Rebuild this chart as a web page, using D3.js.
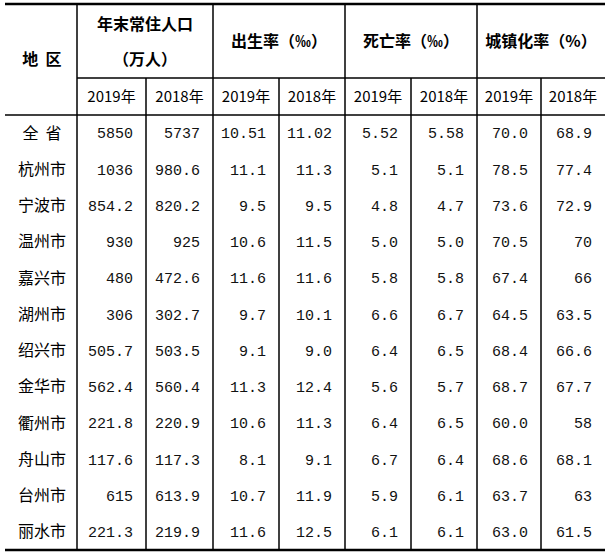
<!DOCTYPE html>
<html><head><meta charset="utf-8">
<script src="https://cdn.jsdelivr.net/npm/d3@7"></script>
<style>body{margin:0;background:#fff}</style>
</head><body><div id="chart"></div>
<script>
// table data
const regions = ["全 省","杭州市","宁波市","温州市","嘉兴市","湖州市","绍兴市","金华市","衢州市","舟山市","台州市","丽水市"];
const pop2019 = ["5850","1036","854.2","930","480","306","505.7","562.4","221.8","117.6","615","221.3"];
const pop2018 = ["5737","980.6","820.2","925","472.6","302.7","503.5","560.4","220.9","117.3","613.9","219.9"];
const birth2019 = ["10.51","11.1","9.5","10.6","11.6","9.7","9.1","11.3","10.6","8.1","10.7","11.6"];
const birth2018 = ["11.02","11.3","9.5","11.5","11.6","10.1","9.0","12.4","11.3","9.1","11.9","12.5"];
const death2019 = ["5.52","5.1","4.8","5.0","5.8","6.6","6.4","5.6","6.4","6.7","5.9","6.1"];
const death2018 = ["5.58","5.1","4.7","5.0","5.8","6.7","6.5","5.7","6.5","6.4","6.1","6.1"];
const urban2019 = ["70.0","78.5","73.6","70.5","67.4","64.5","68.4","68.7","60.0","68.6","63.7","63.0"];
const urban2018 = ["68.9","77.4","72.9","70","66","63.5","66.6","67.7","58","68.1","63","61.5"];
const groups = ["年末常住人口|（万人）","出生率（‰）","死亡率（‰）","城镇化率（%）"];
const years = ["2019年","2018年"];

const columns = [pop2019, pop2018, birth2019, birth2018, death2019, death2018, urban2019, urban2018];

const W = 608, H = 554;
const colEdges = [5, 77, 146, 213, 279, 345, 411, 477, 541, 605];
const y0 = 4, yHead1 = 78, yHead2 = 115, yEnd = 550;

const y = d3.scaleBand().domain(d3.range(regions.length)).range([yHead2, yEnd]);

const svg = d3.select("#chart").append("svg").attr("width", W).attr("height", H);
const cn = "'Noto Sans CJK SC', sans-serif";
const mono = "'Liberation Mono', 'Noto Sans CJK SC', monospace";

// lines
const lines = svg.append("g").attr("stroke", "#000");
lines.append("line").attr("x1", 5).attr("x2", 605).attr("y1", y0).attr("y2", y0).attr("stroke-width", 2.5);
lines.append("line").attr("x1", 77).attr("x2", 605).attr("y1", yHead1).attr("y2", yHead1).attr("stroke-width", 1.5);
lines.append("line").attr("x1", 5).attr("x2", 605).attr("y1", yHead2).attr("y2", yHead2).attr("stroke-width", 1.5);
lines.append("line").attr("x1", 5).attr("x2", 605).attr("y1", yEnd).attr("y2", yEnd).attr("stroke-width", 2.5);
colEdges.slice(1, -1).forEach((x, i) => {
  const top = (i % 2 === 0) ? y0 : yHead1;
  lines.append("line").attr("x1", x).attr("x2", x).attr("y1", top).attr("y2", yEnd).attr("stroke-width", 1.5);
});

// header
svg.append("text").attr("x", 42).attr("y", (y0 + yHead2) / 2).attr("dy", "0.35em")
  .attr("text-anchor", "middle").attr("font-family", cn).attr("font-weight", 700).attr("font-size", 16)
  .attr("xml:space", "preserve").text("地  区");
groups.forEach((g, i) => {
  const cx = (colEdges[1 + 2 * i] + colEdges[3 + 2 * i]) / 2;
  const parts = g.split("|");
  parts.forEach((p, j) => {
    svg.append("text").attr("x", cx)
      .attr("y", parts.length === 1 ? (y0 + yHead1) / 2 : 24 + j * 35).attr("dy", "0.35em")
      .attr("text-anchor", "middle").attr("font-family", cn).attr("font-weight", 700).attr("font-size", 16)
      .text(p);
  });
  years.forEach((yr, j) => {
    const a = colEdges[1 + 2 * i + j], b = colEdges[2 + 2 * i + j];
    svg.append("text").attr("x", (a + b) / 2).attr("y", (yHead1 + yHead2) / 2).attr("dy", "0.35em")
      .attr("text-anchor", "middle").attr("font-family", cn).attr("font-size", 15).text(yr);
  });
});

// body
svg.append("g").selectAll("text").data(regions).join("text")
  .attr("x", 42).attr("y", (d, i) => y(i) + y.bandwidth() / 2).attr("dy", "0.35em")
  .attr("text-anchor", "middle").attr("font-family", cn).attr("font-size", 16)
  .attr("xml:space", "preserve").text(d => d.replace(" ", "  "));

columns.forEach((col, c) => {
  svg.append("g").selectAll("text").data(col).join("text")
    .attr("x", colEdges[c + 2] - 13).attr("y", (d, i) => y(i) + y.bandwidth() / 2).attr("dy", "0.35em")
    .attr("text-anchor", "end").attr("font-family", mono).attr("font-size", 15).attr("fill", "#111")
    .text(d => d);
});
</script></body></html>
